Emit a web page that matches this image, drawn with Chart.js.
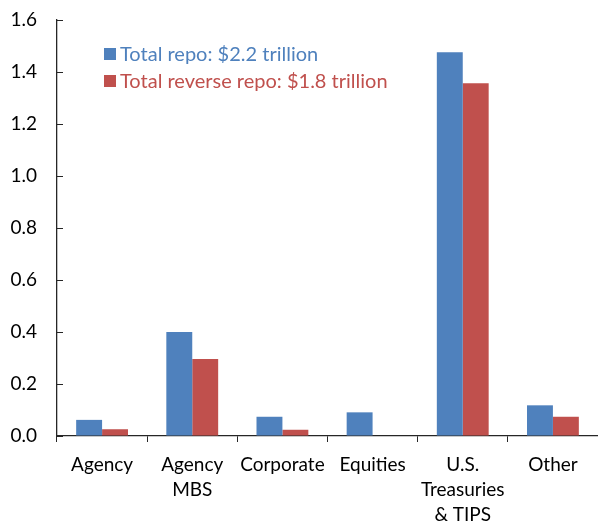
<!DOCTYPE html>
<html>
<head>
<meta charset="utf-8">
<script src="https://cdn.jsdelivr.net/npm/chart.js@4"></script>
<style>
  html, body { margin: 0; padding: 0; background: #fff; }
  #wrap { width: 598px; height: 522px; }
</style>
</head>
<body>
<div id="wrap"><canvas id="repoChart" width="598" height="522"></canvas></div>
<script>
// Collateral categories (multi-line labels)
const categories = [
    'Agency',
    ['Agency', 'MBS'],
    'Corporate',
    'Equities',
    ['U.S.', 'Treasuries', '& TIPS'],
    'Other'
];

// $ trillions
const repoValues = [0.062, 0.40, 0.074, 0.091, 1.476, 0.118];
const reverseRepoValues = [0.026, 0.296, 0.024, 0, 1.357, 0.074];

const seriesNames = ['Total repo: $2.2 trillion', 'Total reverse repo: $1.8 trillion'];
const seriesColors = ['#4F81BD', '#C0504D'];

const yTicks = [0, 0.2, 0.4, 0.6, 0.8, 1.0, 1.2, 1.4, 1.6];

const fontFamily = 'Lato, "Open Sans", sans-serif';
const axisColor = '#262626';

// Legend drawn inside the plot area, top left
const innerLegend = {
    id: 'innerLegend',
    afterDraw(chart) {
        const ctx = chart.ctx;
        const area = chart.chartArea;
        ctx.save();
        ctx.font = '20px ' + fontFamily;
        ctx.textBaseline = 'middle';
        ctx.textAlign = 'left';
        chart.data.datasets.forEach((ds, i) => {
            const x = area.left + 47;
            const y = area.top + 34 + i * 27;
            ctx.fillStyle = ds.backgroundColor;
            ctx.fillRect(x, y - 6, 12, 12);
            ctx.fillText(ds.label, x + 16, y + 1);
        });
        ctx.restore();
    }
};

new Chart(document.getElementById('repoChart'), {
    type: 'bar',
    data: {
        labels: categories,
        datasets: [
            { label: seriesNames[0], data: repoValues, backgroundColor: seriesColors[0] },
            { label: seriesNames[1], data: reverseRepoValues, backgroundColor: seriesColors[1] }
        ]
    },
    options: {
        responsive: false,
        animation: false,
        layout: { padding: { top: 20, right: 0, bottom: 0, left: 0 } },
        datasets: {
            bar: { categoryPercentage: 0.575, barPercentage: 1.0 }
        },
        plugins: {
            legend: { display: false },
            tooltip: { enabled: false }
        },
        scales: {
            x: {
                grid: {
                    display: true,
                    drawOnChartArea: false,
                    tickLength: 6,
                    color: axisColor,
                    offset: true
                },
                border: { display: true, color: axisColor, width: 1.3 },
                ticks: {
                    color: '#000',
                    padding: 10,
                    maxRotation: 0,
                    autoSkip: false,
                    font: { family: fontFamily, size: 19, lineHeight: 1.32 }
                },
                afterFit(scale) {
                    scale.height = 86;
                    scale.paddingLeft = 0;
                    scale.paddingRight = 0;
                }
            },
            y: {
                min: 0,
                max: 1.6,
                afterBuildTicks(scale) {
                    scale.ticks = yTicks.map(v => ({ value: v }));
                },
                grid: {
                    display: true,
                    drawOnChartArea: false,
                    tickLength: -6,
                    color: axisColor
                },
                border: { display: true, color: axisColor, width: 1.3 },
                ticks: {
                    color: '#000',
                    padding: 26,
                    font: { family: fontFamily, size: 19 },
                    callback: v => Number(v).toFixed(1)
                },
                afterFit(scale) {
                    scale.width = 57;
                    scale.paddingTop = 0;
                    scale.paddingBottom = 0;
                }
            }
        }
    },
    plugins: [innerLegend]
});
</script>
</body>
</html>
